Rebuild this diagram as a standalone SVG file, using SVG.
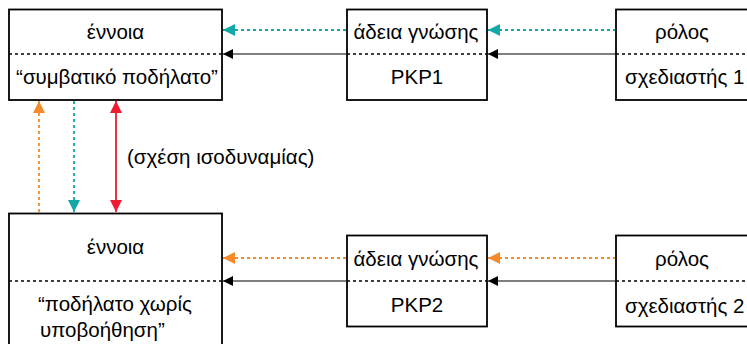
<svg xmlns="http://www.w3.org/2000/svg" width="747" height="344" viewBox="0 0 747 344">
<style>
.box{fill:#fff;stroke:#000;stroke-width:1.8}
.div{stroke:#000;stroke-width:1.5;stroke-dasharray:3,3}
text{font-family:"Liberation Sans",Arial,sans-serif;font-size:20.5px;fill:#000}
.c{text-anchor:middle}
.blk{stroke:#000;stroke-width:1.2;fill:none}
.teal{stroke:#12a8a8;stroke-width:1.8;stroke-dasharray:3,3;fill:none}
.org{stroke:#f58a2a;stroke-width:1.8;stroke-dasharray:3,3;fill:none}
.red{stroke:#ee1c2e;stroke-width:1.8;fill:none}
</style>
<defs>
<marker id="ab" viewBox="0 0 10 10" refX="10" refY="5" markerWidth="10" markerHeight="10" markerUnits="userSpaceOnUse" orient="auto"><path d="M0,0L10,5L0,10z" fill="#000"/></marker>
<marker id="at" viewBox="0 0 10 10" refX="10" refY="5" markerWidth="12" markerHeight="12" markerUnits="userSpaceOnUse" orient="auto"><path d="M0,0L10,5L0,10z" fill="#12a8a8"/></marker>
<marker id="ao" viewBox="0 0 10 10" refX="10" refY="5" markerWidth="12" markerHeight="12" markerUnits="userSpaceOnUse" orient="auto"><path d="M0,0L10,5L0,10z" fill="#f58a2a"/></marker>
<marker id="ar" viewBox="0 0 10 10" refX="10" refY="5" markerWidth="12" markerHeight="12" markerUnits="userSpaceOnUse" orient="auto-start-reverse"><path d="M0,0L10,5L0,10z" fill="#ee1c2e"/></marker>
</defs>
<g id="connectors">
<line class="teal" x1="616" y1="30" x2="488" y2="30" marker-end="url(#at)"/>
<line class="teal" x1="346" y1="30" x2="223" y2="30" marker-end="url(#at)"/>
<line class="blk" x1="616" y1="54" x2="488" y2="54" marker-end="url(#ab)"/>
<line class="blk" x1="346" y1="54" x2="223" y2="54" marker-end="url(#ab)"/>
<line class="org" x1="616" y1="258" x2="488" y2="258" marker-end="url(#ao)"/>
<line class="org" x1="346" y1="258" x2="223" y2="258" marker-end="url(#ao)"/>
<line class="blk" x1="616" y1="281" x2="488" y2="281" marker-end="url(#ab)"/>
<line class="blk" x1="346" y1="281" x2="223" y2="281" marker-end="url(#ab)"/>
<line class="org" x1="39" y1="212" x2="39" y2="101" marker-end="url(#ao)"/>
<line class="teal" x1="74" y1="101" x2="74" y2="212" marker-end="url(#at)"/>
<line class="red" x1="116" y1="101" x2="116" y2="212" marker-start="url(#ar)" marker-end="url(#ar)"/>
<text x="127" y="164">(σχέση ισοδυναμίας)</text>
</g>
<g id="concept1">
<rect class="box" x="9" y="9.5" width="213" height="90.5"/>
<line class="div" x1="9" y1="54" x2="222" y2="54"/>
<text class="c" x="115.5" y="39">έννοια</text>
<text class="c" x="117" y="84">“συμβατικό ποδήλατο”</text>
</g>
<g id="license1">
<rect class="box" x="347" y="9.5" width="140" height="90.5"/>
<line class="div" x1="347" y1="54" x2="487" y2="54"/>
<text class="c" x="416" y="39">άδεια γνώσης</text>
<text class="c" x="417" y="84">PKP1</text>
</g>
<g id="role1">
<rect class="box" x="616" y="9.5" width="140" height="90.5"/>
<line class="div" x1="616" y1="54" x2="756" y2="54"/>
<text class="c" x="682" y="39">ρόλος</text>
<text x="625" y="84">σχεδιαστής 1</text>
</g>
<g id="concept2">
<rect class="box" x="9" y="213.5" width="213" height="140"/>
<line class="div" x1="9" y1="281" x2="222" y2="281"/>
<text class="c" x="115.5" y="254">έννοια</text>
<text x="38" y="311">“ποδήλατο χωρίς</text>
<text x="40" y="337">υποβοήθηση”</text>
</g>
<g id="license2">
<rect class="box" x="347" y="235.5" width="140" height="91"/>
<line class="div" x1="347" y1="281" x2="487" y2="281"/>
<text class="c" x="416" y="266">άδεια γνώσης</text>
<text class="c" x="417" y="312">PKP2</text>
</g>
<g id="role2">
<rect class="box" x="616" y="235.5" width="140" height="91"/>
<line class="div" x1="616" y1="281" x2="756" y2="281"/>
<text class="c" x="682" y="266">ρόλος</text>
<text x="625" y="313">σχεδιαστής 2</text>
</g>
</svg>
